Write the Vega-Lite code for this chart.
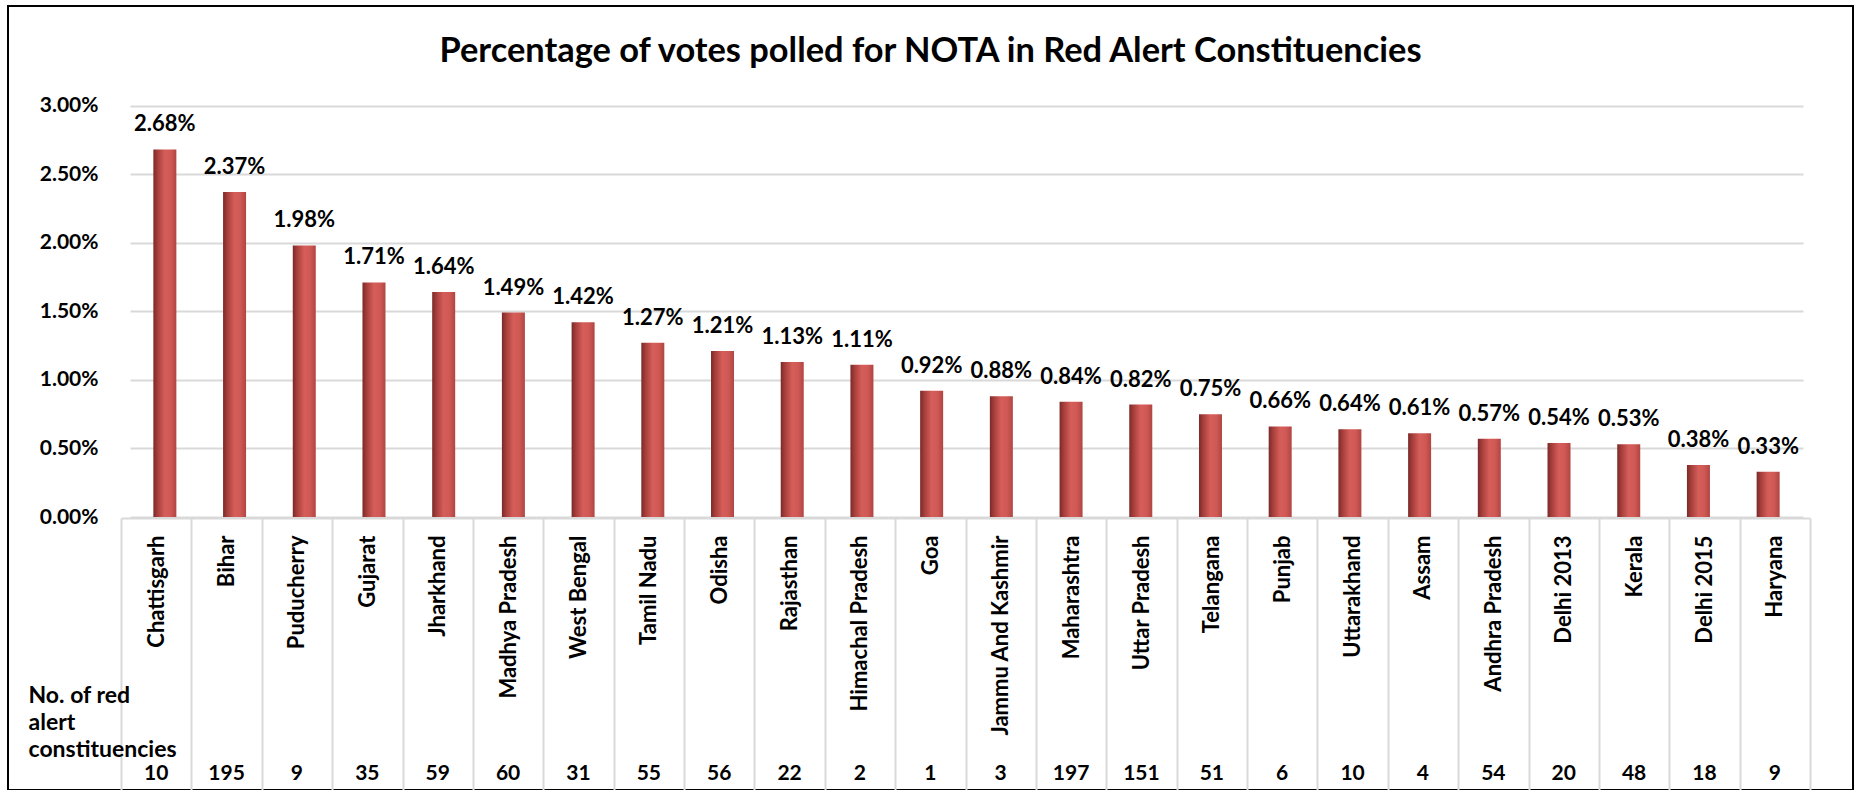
{
  "$schema": "https://vega.github.io/schema/vega-lite/v6.json",
  "width": 1845,
  "height": 784,
  "autosize": {"type": "none"},
  "padding": {"left": 8, "top": 6, "right": 8, "bottom": 0},
  "background": "white",
  "config": {
    "font": "Lato",
    "view": {"stroke": "black", "strokeWidth": 2}
  },
  "title": {
    "text": "Percentage of votes polled for NOTA in Red Alert Constituencies",
    "font": "Lato",
    "fontSize": 34.4,
    "fontWeight": "bold",
    "color": "black",
    "anchor": "middle",
    "frame": "group",
    "baseline": "alphabetic",
    "offset": -90
  },
  "data": {
    "values": [
      {"state": "Chattisgarh", "pct": 0.0268, "count": 10},
      {"state": "Bihar", "pct": 0.0237, "count": 195},
      {"state": "Puducherry", "pct": 0.0198, "count": 9},
      {"state": "Gujarat", "pct": 0.0171, "count": 35},
      {"state": "Jharkhand", "pct": 0.0164, "count": 59},
      {"state": "Madhya Pradesh", "pct": 0.0149, "count": 60},
      {"state": "West Bengal", "pct": 0.0142, "count": 31},
      {"state": "Tamil Nadu", "pct": 0.0127, "count": 55},
      {"state": "Odisha", "pct": 0.0121, "count": 56},
      {"state": "Rajasthan", "pct": 0.0113, "count": 22},
      {"state": "Himachal Pradesh", "pct": 0.0111, "count": 2},
      {"state": "Goa", "pct": 0.0092, "count": 1},
      {"state": "Jammu And Kashmir", "pct": 0.0088, "count": 3},
      {"state": "Maharashtra", "pct": 0.0084, "count": 197},
      {"state": "Uttar Pradesh", "pct": 0.0082, "count": 151},
      {"state": "Telangana", "pct": 0.0075, "count": 51},
      {"state": "Punjab", "pct": 0.0066, "count": 6},
      {"state": "Uttarakhand", "pct": 0.0064, "count": 10},
      {"state": "Assam", "pct": 0.0061, "count": 4},
      {"state": "Andhra Pradesh", "pct": 0.0057, "count": 54},
      {"state": "Delhi 2013", "pct": 0.0054, "count": 20},
      {"state": "Kerala", "pct": 0.0053, "count": 48},
      {"state": "Delhi 2015", "pct": 0.0038, "count": 18},
      {"state": "Haryana", "pct": 0.0033, "count": 9}
    ]
  },
  "layer": [
    {
      "encoding": {
        "x": {
          "field": "state", "type": "nominal", "sort": null,
          "scale": {"range": [122, 1795], "paddingInner": 0, "paddingOuter": 0},
          "axis": null
        },
        "y": {
          "field": "pct", "type": "quantitative",
          "scale": {"domain": [0, 0.03], "range": [511, 99.5], "nice": false, "zero": true},
          "axis": {
            "orient": "left",
            "offset": -92,
            "values": [0, 0.005, 0.01, 0.015, 0.02, 0.025, 0.03],
            "format": ".2%",
            "title": null,
            "domain": false,
            "ticks": false,
            "labelPadding": 2,
            "labelFont": "Lato",
            "labelFontSize": 21,
            "labelFontWeight": "bold",
            "labelColor": "black",
            "grid": true,
            "gridColor": "#d9d9d9",
            "gridWidth": 2
          }
        }
      },
      "layer": [
        {
          "mark": {
            "type": "bar",
            "width": {"band": 0.33},
            "color": {
              "gradient": "linear",
              "x1": 0, "x2": 1, "y1": 0, "y2": 0,
              "stops": [
                {"offset": 0, "color": "#7a2a28"},
                {"offset": 0.18, "color": "#a53e3b"},
                {"offset": 0.5, "color": "#d65e5a"},
                {"offset": 0.75, "color": "#d05955"},
                {"offset": 1, "color": "#b04542"}
              ]
            }
          }
        },
        {
          "mark": {
            "type": "text",
            "font": "Lato",
            "fontSize": 22,
            "fontWeight": "bold",
            "color": "black",
            "baseline": "alphabetic",
            "dy": -18
          },
          "encoding": {
            "text": {"field": "pct", "type": "quantitative", "format": ".2%"}
          }
        }
      ]
    },
    {
      "mark": {
        "type": "text",
        "font": "Lato",
        "fontSize": 21,
        "fontWeight": "bold",
        "color": "black",
        "baseline": "alphabetic"
      },
      "encoding": {
        "x": {
          "field": "state", "type": "nominal", "sort": null,
          "scale": {"range": [113, 1802], "paddingInner": 0, "paddingOuter": 0},
          "axis": {
            "orient": "bottom",
            "offset": -272,
            "title": null,
            "labelAngle": -90,
            "labelAlign": "right",
            "labelBaseline": "middle",
            "labelFont": "Lato",
            "labelFontSize": 22,
            "labelFontWeight": "bold",
            "labelColor": "black",
            "labelPadding": -263,
            "labelOverlap": false,
            "labelLimit": 400,
            "tickBand": "extent",
            "tickSize": 280,
            "tickColor": "#d9d9d9",
            "tickWidth": 2,
            "domainColor": "#d9d9d9",
            "domainWidth": 2,
            "grid": false
          }
        },
        "y": {
          "datum": "No. of red alert constituencies",
          "type": "nominal",
          "scale": {"range": [770, 778]},
          "axis": {
            "orient": "left",
            "labels": false,
            "ticks": false,
            "domain": false,
            "grid": false,
            "title": ["No. of red", "alert", "constituencies"],
            "titleAngle": 0,
            "titleAlign": "left",
            "titleBaseline": "alphabetic",
            "titleX": 20,
            "titleY": 696,
            "titleLineHeight": 27,
            "titleFont": "Lato",
            "titleFontSize": 23,
            "titleFontWeight": "bold",
            "titleColor": "black"
          }
        },
        "text": {"field": "count", "type": "quantitative"}
      }
    }
  ],
  "resolve": {"scale": {"x": "independent", "y": "independent"}, "axis": {"x": "independent", "y": "independent"}}
}
